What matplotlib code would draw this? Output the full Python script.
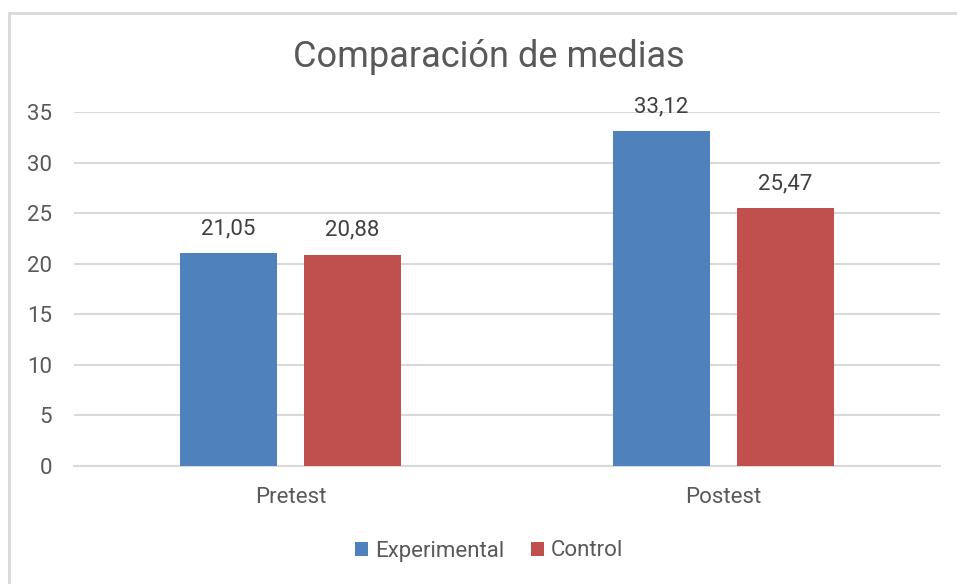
import numpy as np
import matplotlib.pyplot as plt
from matplotlib.patches import Rectangle

# chart data
categories = ["Pretest", "Postest"]
experimental = [21.05, 33.12]
control = [20.88, 25.47]
series_names = ["Experimental", "Control"]
y_ticks = [0, 5, 10, 15, 20, 25, 30, 35]

blue = "#4F81BD"
red = "#C0504D"
text_color = "#595959"
grid_color = "#D9D9D9"

plt.rcParams['font.family'] = ['Roboto', 'DejaVu Sans']

fig = plt.figure(figsize=(9.57, 5.84), dpi=100)
ax = fig.add_axes([0.0773, 0.2021, 0.9049, 0.6061])

# outer chart border like the spreadsheet frame
fig.patches.append(Rectangle((9 / 957, -0.05), 1.0, 1 - 13 / 584 + 0.05,
                             transform=fig.transFigure, fill=False,
                             edgecolor=grid_color, linewidth=2))

x = np.arange(len(categories))
width = 0.224
gap = 0.062
offset = (width + gap) / 2

bars1 = ax.bar(x - offset, experimental, width, color=blue, label=series_names[0], zorder=3)
bars2 = ax.bar(x + offset, control, width, color=red, label=series_names[1], zorder=3)

for bars in (bars1, bars2):
    for b in bars:
        h = b.get_height()
        ax.annotate(f"{h:.2f}".replace(".", ","), (b.get_x() + b.get_width() / 2, h),
                    xytext=(0, 10), textcoords="offset points", ha="center", va="bottom",
                    fontsize=16, color="#404040")

ax.set_xlim(-0.5, 1.5)
ax.set_ylim(0, 35)
ax.set_yticks(y_ticks)
ax.set_xticks(x)
ax.set_xticklabels(categories)
ax.tick_params(axis="both", length=0, labelsize=16, colors=text_color)
ax.tick_params(axis="y", pad=16)
ax.tick_params(axis="x", pad=15)
ax.yaxis.grid(True, color=grid_color, linewidth=1.5, zorder=0)
for s in ["top", "right", "left"]:
    ax.spines[s].set_visible(False)
ax.spines["bottom"].set_color(grid_color)
ax.spines["bottom"].set_linewidth(1.5)

fig.text(0.511, 1 - 57 / 584, "Comparación de medias", ha="center", va="center",
         fontsize=26, color=text_color)

fig.legend(loc="center", bbox_to_anchor=(0.511, 1 - 551 / 584), ncol=2, frameon=False,
           fontsize=16, handlelength=0.6, handleheight=0.6, handletextpad=0.3,
           columnspacing=1.2, labelcolor=text_color)

fig.savefig("out.png", dpi=100)
